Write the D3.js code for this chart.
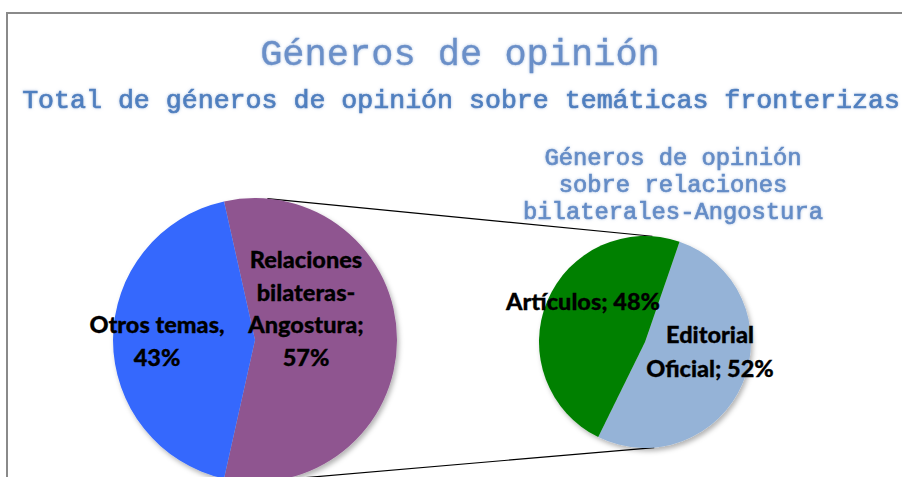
<!DOCTYPE html>
<html>
<head>
<meta charset="utf-8">
<script src="https://cdn.jsdelivr.net/npm/d3@7"></script>
<style>
  html, body { margin: 0; padding: 0; background: #ffffff; }
  svg { display: block; }
</style>
</head>
<body>
<svg id="chart" width="902" height="477"></svg>
<script>
// ---- data ----
const mainCategories = ["Relaciones bilateras-Angostura", "Otros temas"];
const mainValues = [57, 43];
const mainLabels = [["Relaciones", "bilateras-", "Angostura;", "57%"], ["Otros temas,", "43%"]];
const subCategories = ["Editorial Oficial", "Artículos"];
const subValues = [52, 48];
const subLabels = [["Editorial", "Oficial; 52%"], ["Artículos; 48%"]];
const titleText = "Géneros de opinión";
const subtitleText = "Total de géneros de opinión sobre temáticas fronterizas";
const subTitleLines = ["Géneros de opinión", "sobre relaciones", "bilaterales-Angostura"];

const mainColors = ["#8f5590", "#3568fd"];
const subColors = ["#95b3d7", "#008000"];

const svg = d3.select("#chart");
const defs = svg.append("defs");

const glow = defs.append("filter").attr("id", "glow").attr("x", "-10%").attr("y", "-30%").attr("width", "120%").attr("height", "160%");
glow.append("feGaussianBlur").attr("in", "SourceAlpha").attr("stdDeviation", 1.6).attr("result", "b");
glow.append("feFlood").attr("flood-color", "#a9bfdf").attr("flood-opacity", 0.85);
glow.append("feComposite").attr("in2", "b").attr("operator", "in").attr("result", "g");
const gm = glow.append("feMerge");
gm.append("feMergeNode").attr("in", "g");
gm.append("feMergeNode").attr("in", "SourceGraphic");

const shadow = defs.append("filter").attr("id", "shadow").attr("x", "-20%").attr("y", "-20%").attr("width", "140%").attr("height", "140%");
shadow.append("feDropShadow").attr("dx", 2).attr("dy", 3).attr("stdDeviation", 2.5).attr("flood-color", "#000").attr("flood-opacity", 0.3);

// frame
svg.append("path").attr("d", "M7,477 V13 H902").attr("fill", "none").attr("stroke", "#8a8a8a").attr("stroke-width", 2);

const mono = "'Liberation Mono', 'Courier New', monospace";
// titles
svg.append("text").attr("x", 460).attr("y", 65).attr("text-anchor", "middle")
  .attr("font-family", mono).attr("font-size", 37)
  .attr("fill", "#6a8fc8").attr("stroke", "#6a8fc8").attr("stroke-width", 0.3)
  .attr("filter", "url(#glow)").text(titleText);
svg.append("text").attr("x", 461).attr("y", 108).attr("text-anchor", "middle")
  .attr("font-family", mono).attr("font-size", 26.6)
  .attr("fill", "#4f7fbf").attr("stroke", "#4f7fbf").attr("stroke-width", 0.7)
  .attr("filter", "url(#glow)").text(subtitleText);

svg.append("text").attr("text-anchor", "middle")
  .attr("font-family", mono).attr("font-size", 23.8)
  .attr("fill", "#648cc6").attr("stroke", "#648cc6").attr("stroke-width", 0.7)
  .attr("filter", "url(#glow)")
  .selectAll("tspan").data(subTitleLines).join("tspan")
  .attr("x", 673).attr("y", (d, i) => 165 + i * 27).text(d => d);

// geometry
const main = { cx: 255, cy: 340, r: 142 };
const sub = { cx: 645, cy: 342, r: 106 };
const deg = Math.PI / 180;

// connector lines (drawn under pies)
function pt(p, a) { return [p.cx + p.r * Math.sin(a * deg), p.cy - p.r * Math.cos(a * deg)]; }
const lineGen = d3.line();
svg.append("path").attr("d", lineGen([pt(main, 5), pt(sub, 4)])).attr("stroke", "#000").attr("stroke-width", 1.2).attr("fill", "none");
svg.append("path").attr("d", lineGen([pt(main, 170), pt(sub, 175)])).attr("stroke", "#000").attr("stroke-width", 1.2).attr("fill", "none");

// main pie: split slice centred on the right
const mainTotal = d3.sum(mainValues);
const mainStart = Math.PI / 2 - Math.PI * mainValues[0] / mainTotal;
const mainPie = d3.pie().sort(null).startAngle(mainStart).endAngle(mainStart + 2 * Math.PI)(mainValues);
const mainArc = d3.arc().innerRadius(0).outerRadius(main.r);
const gMain = svg.append("g").attr("transform", `translate(${main.cx},${main.cy})`).attr("filter", "url(#shadow)");
gMain.selectAll("path").data(mainPie).join("path").attr("d", mainArc).attr("fill", (d, i) => mainColors[i]);

const subStart = 19 * deg;
const subPie = d3.pie().sort(null).startAngle(subStart).endAngle(subStart + 2 * Math.PI)(subValues);
const subArc = d3.arc().innerRadius(0).outerRadius(sub.r);
const gSub = svg.append("g").attr("transform", `translate(${sub.cx},${sub.cy})`).attr("filter", "url(#shadow)");
gSub.selectAll("path").data(subPie).join("path").attr("d", subArc).attr("fill", (d, i) => subColors[i]);

// labels
const labelFont = "Lato, Carlito, Calibri, 'Open Sans', sans-serif";
function addLabel(lines, x, y0, step) {
  svg.append("text").attr("text-anchor", "middle").attr("font-family", labelFont)
    .attr("font-weight", 900).attr("font-size", 23.5).attr("fill", "#000")
    .attr("stroke", "#000").attr("stroke-width", 0.3)
    .selectAll("tspan").data(lines).join("tspan")
    .attr("x", x).attr("y", (d, i) => y0 + i * step).text(d => d);
}
addLabel(mainLabels[0], 306, 268, 32.5);
addLabel(mainLabels[1], 157, 333, 32.5);
addLabel(subLabels[0], 710, 343, 34);
addLabel(subLabels[1], 583, 310, 34);
</script>
</body>
</html>
